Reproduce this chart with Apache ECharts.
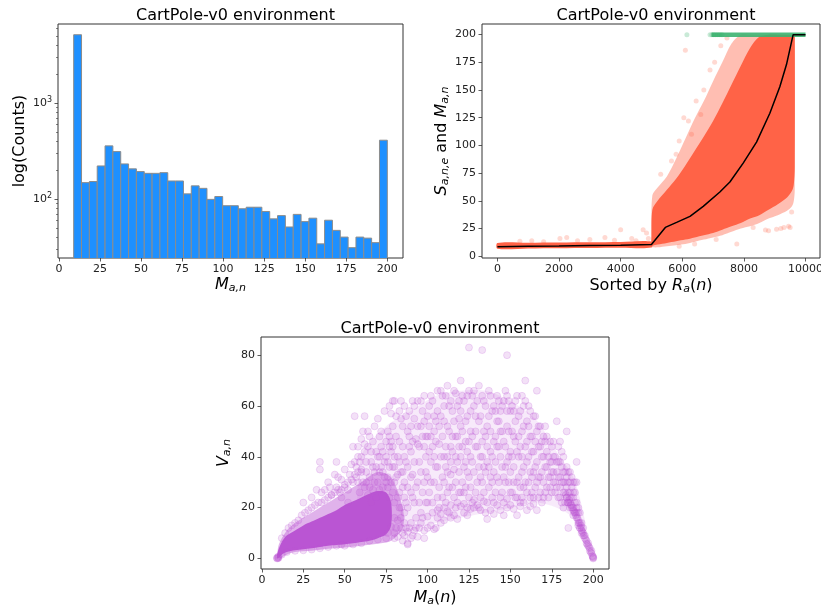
<!DOCTYPE html>
<html><head><meta charset="utf-8">
<script src="https://cdn.jsdelivr.net/npm/echarts@6/dist/echarts.min.js"></script>
<style>html,body{margin:0;padding:0;background:#fff}#c{width:821px;height:609px}</style>
</head><body><div id="c"></div>
<script>
// ---------- Panel 1: histogram of M_{a,n} ----------
const histMin = 9, histMax = 200;
const histCounts = [5170,148,152,221,358,312,232,206,193,185,185,188,154,154,113,137,129,99,106,85,
                    85,79,82,82,74,62,67,51,69,58,63,34,60,47,40,31,40,39,35,410];
const xTicks1 = [0,25,50,75,100,125,150,175,200];
const yMajor1 = [100,1000];
const yMinor1 = [30,40,50,60,70,80,90,200,300,400,500,600,700,800,900,2000,3000,4000,5000,6000];

// ---------- Panel 2: sorted episodes ----------
const xTicks2 = [0,2000,4000,6000,8000,10000];
const yTicks2 = [0,25,50,75,100,125,150,175,200];
const meanX = [0,1000,2000,3000,4000,5000,5450,5816,6250,6680,7220,7545,7977,8410,8842,9166,9382,9598,10000];
const meanY = [8.6,9.0,9.3,9.7,10.0,10.5,26,30.5,36,45,58,67,84,103,129,153,173,200,200];
const flatX = [0,1000,2000,3000,4000,5000];
const flatLow = [6.8,7.0,7.2,7.4,7.6,7.8];
const flatHigh = [12.0,12.2,12.4,12.6,12.9,13.2];
const cloudX = [5000,5030,5200,5500,5800,6100,6400,6700,7000,7300,7600,7900,8200,8500,8800,9100,9400,9560,9620,9650];
const outerLow = [8,8,8,9,10,11,13,15,17,19,22,25,27,30,34,37,41,45,50,60];
const outerHigh = [24,55,62,72,88,106,124,140,158,175,192,200,200,200,200,200,200,200,200,200];
const innerLow = [9,9.5,10.5,12,13.5,15,17,19,21,24,27,30,34,37,42,47,53,59,65,80];
const innerHigh = [18,42,50,60,70,82,95,108,122,138,155,172,188,198,200,200,200,200,200,200];
const redPts = [[5300,74],[5650,86],[5800,92],[5900,104],[6050,125],[6200,122],[6300,110],[6450,140],[6600,128],
  [6700,150],[6900,168],[7050,175],[7250,190],[7450,197],[6100,186],[7770,11],[8700,23.7],[8800,23],[9060,24.3],
  [9200,25],[9300,26],[9450,27],[9500,26],[4000,24],[4730,24],[4840,21],[2030,16],[3000,15],[3490,17],[730,13.5],
  [1115,14],[4360,16],[2250,17],[1500,13],[2600,14],[3800,14.5],[4500,14],[4900,16],[5900,9],[6400,11],[7100,15],
  [8300,26],[9550,40]];
const greenBandX = [6950,10000];
const greenBandY = [200,200];
const greenPts = [[6150,200],[6900,200],[6960,200],[7020,200],[7080,200],[7150,200],[7220,200],[7290,200]];

// ---------- Panel 3: V_{a,n} vs M_a(n) ----------
const xTicks3 = [0,25,50,75,100,125,150,175,200];
const yTicks3 = [0,20,40,60,80];
const denseX = [9,10,12,15,20,25,30,35,40,45,50,55,60,65,70,75,78];
const denseLow = [0,0.2,1.5,2.5,3.2,3.6,4,4.5,5,5.3,5.6,6,6.5,7,8,9.5,13];
const denseHigh = [1,3.5,6.5,9,11,13,14.5,16,17.5,19,21,22.5,24,25.5,26.5,26,22];
const midX = [10,15,20,30,40,50,60,70,78,85];
const midLow = [0,1.5,2.5,3,3.8,4.3,5,5.8,7,12];
const midHigh = [5,11,14,18,22,26,30,34,32,20];
const faintX = [60,75,90,105,120,135,150,165,178,188,195];
const faintLow = [8,9,11,14,16,18,20,22,20,16,8];
const faintHigh = [40,52,58,64,66,66,62,55,42,32,15];
const purplePts = [
 [58,30],[60,34],[62,28],[63,38],[65,32],[66,42],[67,36],[68,30],[70,40],[71,34],[72,44],[73,28],[74,38],[75,46],[76,32],
 [62,45],[64,25],[69,24],[71,27],[66,22],[59,26],[57,36],[55,30],[53,33],[52,27],[50,29],[48,31],[47,26],[45,28],[44,33],
 [42,25],[35,38],[35,35],[40,30],[38,27],[56,56],[60,47],[64,50],[68,52],[70,55],[77,60],[78,57],[80,62],[74,58],[72,50],
 [78,42],[79,36],[80,30],[80,22],[81,48],[82,40],[83,26],[84,34],[84,55],[85,44],[86,60],[86,18],[87,38],[88,28],[88,50],
 [89,58],[90,14],[90,42],[91,33],[92,55],[92,22],[93,47],[94,62],[94,30],[95,38],[96,52],[96,18],[97,26],[98,44],[98,64],
 [99,34],[100,56],[100,12],[100,22],[82,15],[85,10],[88,6],[91,9],[95,12],[98,8],[84,20],[87,12],[93,16],[97,58],[89,48],
 [79,52],[83,58],[91,62],[76,38],[77,24],[81,12],[86,30],[90,26],[94,45],[99,48],
 [101,42],[102,30],[103,62],[103,18],[104,50],[105,36],[106,66],[106,24],[107,45],[108,56],[108,14],[109,32],[110,60],
 [110,40],[111,22],[112,52],[112,68],[113,28],[114,44],[114,16],[115,58],[116,35],[117,65],[117,20],[118,48],[119,26],
 [119,55],[120,40],[120,70],[121,30],[122,62],[122,18],[123,46],[124,34],[124,56],[125,24],[125,66],[102,48],[105,54],
 [107,28],[109,64],[111,36],[113,60],[115,48],[116,24],[118,38],[120,52],[121,44],[123,28],[104,40],[110,20],[114,33],
 [119,62],[124,42],[101,60],[106,16],[112,40],[117,30],
 [126,50],[127,38],[128,60],[128,20],[129,44],[130,30],[131,68],[131,54],[132,24],[133,46],[134,36],[134,62],[135,18],
 [136,52],[137,28],[137,66],[138,42],[139,58],[140,34],[140,22],[141,48],[142,64],[143,30],[143,54],[144,40],[145,26],
 [145,60],[146,46],[147,36],[147,66],[148,52],[148,20],[149,30],[150,58],[150,42],[126,28],[129,56],[132,40],[135,48],
 [138,32],[141,58],[144,50],[146,32],[149,62],[127,64],[133,30],[136,38],[139,24],[142,44],[148,38],[125,83],[133,82],[148,80],
 [151,50],[151,26],[152,36],[153,62],[153,46],[154,30],[155,56],[155,40],[156,22],[157,50],[157,34],[158,60],[158,28],
 [159,44],[160,38],[160,54],[161,30],[162,48],[162,24],[163,42],[164,56],[164,34],[165,28],[165,46],[166,38],[167,52],
 [167,24],[168,32],[168,44],[169,40],[170,30],[170,48],[171,26],[172,36],[172,42],[173,32],[174,28],[174,38],[175,34],
 [175,44],[159,70],[166,66],[152,58],[156,44],[161,60],[163,26],[169,22],[171,46],[154,24],[157,64],
 [176,30],[176,40],[177,26],[178,34],[178,54],[179,38],[179,24],[180,32],[180,28],[181,36],[181,22],[182,30],[182,40],
 [183,26],[183,34],[184,28],[184,36],[185,30],[185,22],[186,34],[186,26],[187,28],[187,20],[188,30],[188,24],[189,26],
 [189,18],[190,22],[190,30],[191,20],[191,14],[192,18],[192,12],[193,14],[193,10],[194,12],[180,46],[185,12],[190,38],
 [184,50],[182,20],
 [12,8],[14,10],[16,12],[18,13],[20,14],[22,15],[24,17],[26,18],[28,19],[30,20],[32,21],[34,22],[36,22],[38,23],[40,24],
 [42,25],[44,26],[46,27],[48,27],[50,28],[52,30],[54,31],[56,33],[58,34],[60,35],[25,22],[30,24],[33,27],[36,26],[41,28],
 [46,32],[50,35],[54,37],[58,40],[62,42],[45,38],[55,44],[62,56],[48,24],[52,22],
 [12,1.5],[15,2.5],[20,3],[25,3.2],[30,3.5],[35,4],[40,4.5],[45,5],[48,5.5],[50,5],[55,5.5],[60,6],[65,7],[70,7.5],
 [75,8],[80,8],[85,7],[88,5.5]];
const purplePts2 = [
 [76,50],[77,44],[78,30],[79,62],[80,40],[80,16],[81,56],[82,33],[83,46],[83,20],[84,62],[85,28],[85,52],[86,40],[87,22],
 [87,56],[88,36],[89,44],[89,12],[90,52],[90,32],[91,24],[91,46],[92,60],[92,38],[93,28],[93,12],[94,52],[95,22],[95,44],
 [96,34],[96,62],[97,48],[97,16],[98,30],[98,54],[99,40],[99,22],[100,48],[100,32],
 [101,26],[101,52],[102,38],[102,64],[103,44],[103,22],[104,56],[104,30],[105,46],[105,12],[106,36],[106,58],[107,20],
 [107,52],[108,40],[108,66],[109,24],[109,48],[110,30],[110,54],[111,44],[111,64],[112,26],[112,34],[113,50],[113,18],
 [114,38],[114,62],[115,28],[115,42],[116,54],[116,66],[117,40],[117,48],[118,22],[118,60],[119,34],[119,44],[120,26],
 [120,58],[121,50],[121,64],[122,36],[122,26],[123,54],[123,38],[124,20],[124,64],[125,46],[125,32],
 [126,40],[126,58],[127,22],[127,48],[128,34],[128,66],[129,26],[129,50],[130,44],[130,62],[131,36],[131,20],[132,56],
 [132,32],[133,64],[133,40],[134,26],[134,50],[135,60],[135,34],[136,44],[136,22],[137,56],[137,36],[138,50],[138,64],
 [139,30],[139,40],[140,60],[140,46],[141,26],[141,38],[142,54],[142,32],[143,62],[143,44],[144,24],[144,58],[145,36],
 [145,50],[146,62],[146,22],[147,44],[147,30],[148,58],[148,64],[149,40],[149,50],[150,26],[150,34],
 [151,40],[151,60],[152,30],[152,48],[153,24],[153,54],[154,42],[154,64],[155,32],[155,48],[156,58],[156,28],[157,40],
 [157,24],[158,52],[158,36],[159,30],[159,62],[160,46],[160,26],[161,52],[161,40],[162,34],[162,58],[163,48],[163,32],
 [164,24],[164,42],[165,56],[165,36],[166,30],[166,50],[167,44],[167,32],[168,26],[168,52],[169,34],[169,46],[170,40],
 [170,24],[171,36],[171,52],[172,28],[172,48],[173,40],[173,24],[174,46],[174,32],[175,26],[175,38],
 [176,34],[176,46],[177,40],[177,30],[178,28],[178,38],[179,32],[179,44],[180,24],[180,38],[181,30],[181,42],[182,26],
 [182,34],[183,30],[183,22],[184,32],[184,24],[185,26],[185,34],[186,30],[186,24],[187,24],[188,26],[188,20],[189,22],
 [190,20],[191,18],[189,30],[187,32],
 [56,38],[58,44],[60,40],[61,30],[63,34],[64,44],[65,28],[66,38],[67,46],[68,34],[69,42],[70,30],[71,48],[72,36],[73,42],
 [74,32],[75,40],[76,28],[77,36],[78,46],[79,26],[80,36],[57,32],[59,38],[61,50],[63,30],[65,48],[67,27],[69,36],[71,40],
 [73,34],[75,30],[77,48],[79,44],[81,32],[83,38],[85,34],[82,24],[84,16],[86,14],[88,20],[86,24],
 [76,10],[78,12.5],[80,10],[82,8.5],[84,12],[86,9],[88,10.5],[90,8],[92,11],[94,8.5],[96,14],[98,11],[100,16.5],[102,13],
 [104,11.5],[106,19],[108,17.5],[110,15],[112,18.5],[114,21],[116,17],[118,15.5],[120,20.5],[122,21.5],[124,17],
 [126,19.5],[128,23],[130,21],[132,19],[134,22.5],[136,15.5],[138,19],[140,17.5],[142,21],[144,19],[146,17],[148,23.5],
 [150,21],[152,19.5],[154,17],[156,20.5],[158,22],[160,19],[162,20.5],[164,21.5],[166,19]];
const arcPts = [[184,24],[185,22],[186,22],[186,20],[187,21],[188,19],[188,17],[189,18],[190,16],[190,18],[191,15],[191,13],
 [192,14],[192,12],[193,11],[193,12],[194,10],[194,9],[195,8],[195,9],[196,7],[196,6],[197,5],[197,6],[198,4],[198,3],
 [199,2],[199,3],[199.5,1],[200,0.5],[200,0],[200,0.3],[199.8,0.8],[198.5,2.5],[197.5,4.5],[196.5,5.5],[195.5,7.5],
 [194.5,9],[193.5,10.5],[192.5,13],[191.5,14],[190.5,16],[189.5,17],[188.5,18.5],[187.5,20],[186.5,21],[185.5,23],
 [184.5,22],[183.5,25],[9,0.2],[9.5,0.5],[10,0.8],[9.2,0],[10,0.3],[9.8,0.1]];

// ---------- styling ----------
const FF = 'DejaVu Sans';
const rich = {
  i: {fontFamily: FF, fontStyle: 'italic', fontSize: 16, color: '#000'},
  s: {fontFamily: FF, fontStyle: 'italic', fontSize: 11, color: '#000', padding: [8, 0, 0, 0]},
  n: {fontFamily: FF, fontSize: 16, color: '#000'}
};
const nameStyle = {fontFamily: FF, fontSize: 16, color: '#000', rich: rich};
const labelStyle = {fontFamily: FF, fontSize: 11, color: '#222', margin: 6, formatter: function (v) { return String(v); }};
const tickStyle = {length: 3.5, lineStyle: {color: '#333', width: 0.8}};

function valueAxis(grid, min, max, ticks, extra) {
  return Object.assign({
    type: 'value', gridIndex: grid, min: min, max: max, splitLine: {show: false},
    axisLine: {show: false, onZero: false},
    axisTick: Object.assign({customValues: ticks}, tickStyle),
    axisLabel: Object.assign({customValues: ticks}, labelStyle),
    nameTextStyle: nameStyle, nameLocation: 'middle'
  }, extra || {});
}
function bandSeries(xi, yi, xs, lo, hi, fill, z) {
  return {
    type: 'custom', xAxisIndex: xi, yAxisIndex: yi, clip: true, z: z,
    data: [[xs[0], lo[0]]], silent: true,
    renderItem: function (params, api) {
      const pts = [];
      for (let k = 0; k < xs.length; k++) pts.push(api.coord([xs[k], lo[k]]));
      for (let k = xs.length - 1; k >= 0; k--) pts.push(api.coord([xs[k], hi[k]]));
      return {type: 'polygon', shape: {points: pts, smooth: 0.3}, style: {fill: fill}};
    }
  };
}

const binW = (histMax - histMin) / histCounts.length;
const histData = histCounts.map((c, i) => [histMin + i * binW, histMin + (i + 1) * binW, c]);
const yLogMin = 24.2, yLogMax = 6690;
const titleStyle = {fontFamily: FF, fontSize: 16, fontWeight: 'normal', color: '#000'};
const gridBase = {show: true, borderColor: '#333', borderWidth: 1, backgroundColor: 'transparent',
                  containLabel: false, outerBoundsMode: 'none'};

const option = {
  animation: false,
  backgroundColor: '#fff',
  textStyle: {fontFamily: FF},
  title: [
    {text: 'CartPole-v0 environment', left: 230.5, top: 3, textAlign: 'center', textStyle: titleStyle},
    {text: 'CartPole-v0 environment', left: 651, top: 3, textAlign: 'center', textStyle: titleStyle},
    {text: 'CartPole-v0 environment', left: 435, top: 315.5, textAlign: 'center', textStyle: titleStyle}
  ],
  grid: [
    Object.assign({left: 58, top: 24, width: 345, height: 234}, gridBase),
    Object.assign({left: 482, top: 24, width: 338, height: 234}, gridBase),
    Object.assign({left: 261, top: 337, width: 348, height: 232}, gridBase)
  ],
  xAxis: [
    valueAxis(0, -0.55, 209.55, xTicks1, {name: '{i|M}{s|a,n}', nameGap: 17}),
    valueAxis(1, -500, 10470, xTicks2, {name: '{n|Sorted by }{i|R}{s|a}{n|(}{i|n}{n|)}', nameGap: 18}),
    valueAxis(2, -0.55, 209.55, xTicks3, {name: '{i|M}{s|a}{n|(}{i|n}{n|)}', nameGap: 19})
  ],
  yAxis: [
    {
      type: 'log', logBase: 10, gridIndex: 0, position: 'left', min: yLogMin, max: yLogMax,
      splitLine: {show: false}, axisLine: {show: false, onZero: false},
      axisTick: Object.assign({customValues: yMajor1}, tickStyle),
      axisLabel: {customValues: yMajor1, fontFamily: FF, fontSize: 11, color: '#222', margin: 6,
        formatter: function (v) { return '10{sup|' + Math.round(Math.log10(v)) + '}'; },
        rich: {sup: {fontFamily: FF, fontSize: 8, color: '#222', padding: [0, 0, 7, 0]}}},
      name: 'log(Counts)', nameLocation: 'middle', nameGap: 30, nameTextStyle: nameStyle
    },
    {
      type: 'log', logBase: 10, gridIndex: 0, position: 'left', offset: 0, min: yLogMin, max: yLogMax,
      splitLine: {show: false}, axisLine: {show: false, onZero: false}, axisLabel: {show: false},
      axisTick: {customValues: yMinor1, length: 2, lineStyle: {color: '#333', width: 0.6}}
    },
    valueAxis(1, -1.6, 209.6, yTicks2, {name: '{i|S}{s|a,n,e}{n| and }{i|M}{s|a,n}', nameGap: 30}),
    valueAxis(2, -4.15, 87.15, yTicks3, {name: '{i|V}{s|a,n}', nameGap: 28})
  ],
  series: [
    {
      type: 'custom', xAxisIndex: 0, yAxisIndex: 0, clip: true, data: histData,
      encode: {x: [0, 1], y: 2},
      renderItem: function (params, api) {
        const p0 = api.coord([api.value(0), api.value(2)]);
        const p1 = api.coord([api.value(1), 20]);
        return {type: 'rect', shape: {x: p0[0], y: p0[1], width: p1[0] - p0[0], height: p1[1] - p0[1]},
          style: {fill: '#1E90FF', stroke: '#8c8c8c', lineWidth: 1}};
      }
    },
    bandSeries(1, 2, flatX, flatLow, flatHigh, '#FF6347', 1),
    bandSeries(1, 2, cloudX, outerLow, outerHigh, 'rgba(255,99,71,0.42)', 1),
    bandSeries(1, 2, cloudX, innerLow, innerHigh, '#FF6347', 2),
    {type: 'scatter', xAxisIndex: 1, yAxisIndex: 2, symbolSize: 5, z: 3, data: redPts,
     itemStyle: {color: 'rgba(255,99,71,0.3)'}, silent: true},
    {type: 'line', xAxisIndex: 1, yAxisIndex: 2, z: 4, symbol: 'none', silent: true,
     data: greenBandX.map((x, i) => [x, greenBandY[i]]),
     lineStyle: {color: 'rgba(60,179,113,0.9)', width: 4.5}},
    {type: 'scatter', xAxisIndex: 1, yAxisIndex: 2, symbolSize: 5, z: 4, data: greenPts,
     itemStyle: {color: 'rgba(60,179,113,0.35)'}, silent: true},
    {type: 'line', xAxisIndex: 1, yAxisIndex: 2, z: 5, symbol: 'none', silent: true,
     data: meanX.map((x, i) => [x, meanY[i]]),
     lineStyle: {color: '#000', width: 1.5}},
    bandSeries(2, 3, faintX, faintLow, faintHigh, 'rgba(186,85,211,0.12)', 1),
    bandSeries(2, 3, midX, midLow, midHigh, 'rgba(186,85,211,0.45)', 1),
    bandSeries(2, 3, denseX, denseLow, denseHigh, '#BA55D3', 2),
    {type: 'scatter', xAxisIndex: 2, yAxisIndex: 3, symbolSize: 7, z: 3,
     data: purplePts.concat(purplePts2, arcPts), silent: true,
     itemStyle: {color: 'rgba(186,85,211,0.22)', borderColor: 'rgba(186,85,211,0.3)', borderWidth: 0.8}}
  ]
};
const chart = echarts.init(document.getElementById('c'), null, {renderer: 'canvas'});
chart.setOption(option);
</script></body></html>
